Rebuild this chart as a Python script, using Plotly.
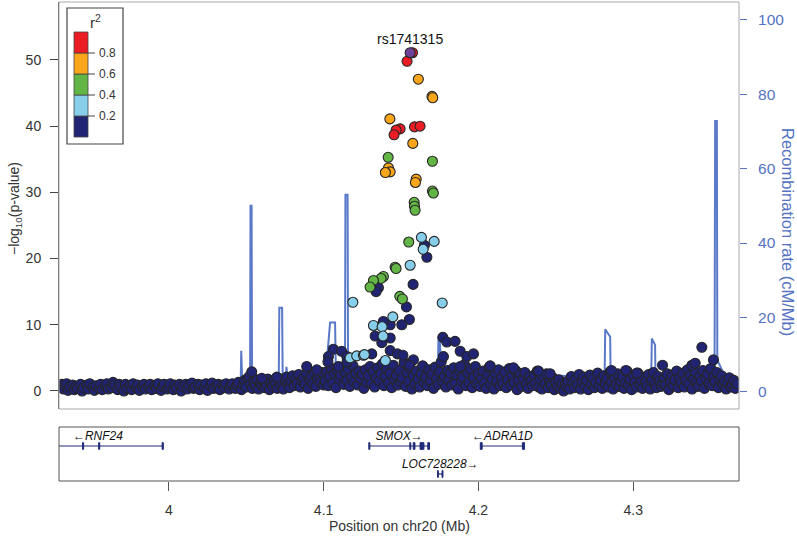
import plotly.graph_objects as go

FONT = "Liberation Sans, Arial, Helvetica, sans-serif"

# ---------------- data ----------------
# background SNPs (r2 < 0.2), position in Mb and -log10(p)
bg_pos = [
    3.931, 3.932, 3.933, 3.934, 3.935, 3.936, 3.938, 3.939, 3.940, 3.941,
    3.943, 3.944, 3.945, 3.947, 3.948, 3.949, 3.951, 3.952, 3.953, 3.955,
    3.956, 3.957, 3.959, 3.960, 3.961, 3.963, 3.964, 3.965, 3.967, 3.968,
    3.969, 3.971, 3.972, 3.973, 3.975, 3.976, 3.977, 3.979, 3.980, 3.981,
    3.983, 3.984, 3.985, 3.987, 3.988, 3.989, 3.991, 3.992, 3.993, 3.995,
    3.996, 3.997, 3.999, 4.000, 4.001, 4.003, 4.004, 4.005, 4.007, 4.008,
    4.009, 4.011, 4.012, 4.013, 4.015, 4.016, 4.017, 4.019, 4.020, 4.021,
    4.023, 4.024, 4.025, 4.027, 4.028, 4.029, 4.031, 4.032, 4.033, 4.035,
    4.036, 4.037, 4.039, 4.040, 4.041, 4.043, 4.044, 4.045, 4.047, 4.048,
    4.049, 4.050, 4.051, 4.052, 4.053, 4.054, 4.055, 4.056, 4.057, 4.058,
    4.059, 4.060,
    4.061, 4.062, 4.063, 4.064, 4.065, 4.066, 4.067, 4.068, 4.069, 4.070,
    4.071, 4.072, 4.073, 4.074, 4.075, 4.076, 4.077, 4.078, 4.079, 4.080,
    4.081, 4.082, 4.083, 4.084, 4.085, 4.086, 4.087, 4.088, 4.089, 4.090,
    4.091, 4.092, 4.093, 4.094, 4.095, 4.096, 4.097, 4.098, 4.099, 4.100,
    4.101, 4.102, 4.103, 4.104, 4.105, 4.106, 4.107, 4.108, 4.109, 4.110,
    4.111, 4.112, 4.113, 4.114, 4.115, 4.116, 4.117, 4.118, 4.119, 4.120,
    4.121, 4.122, 4.123, 4.124, 4.125, 4.126, 4.127, 4.128, 4.129, 4.130,
    4.131, 4.132, 4.133, 4.134, 4.135, 4.136, 4.137, 4.138, 4.139, 4.140,
    4.141, 4.142, 4.143, 4.144, 4.145, 4.146, 4.147, 4.148, 4.149, 4.150,
    4.151, 4.152, 4.153, 4.154, 4.155, 4.156, 4.157, 4.158, 4.159, 4.160,
    4.161, 4.162, 4.163, 4.164, 4.165, 4.166, 4.167, 4.168, 4.169, 4.170,
    4.171, 4.172, 4.173, 4.174, 4.175, 4.176, 4.177, 4.178, 4.179, 4.180,
    4.181, 4.182, 4.183, 4.184, 4.185, 4.186, 4.187, 4.188, 4.189, 4.190,
    4.191, 4.192, 4.193, 4.194, 4.195, 4.196, 4.197, 4.198, 4.199, 4.200,
    4.201, 4.202, 4.203, 4.204, 4.205, 4.206, 4.207, 4.208, 4.209, 4.210,
    4.211, 4.212, 4.213, 4.214, 4.215, 4.216, 4.217, 4.218, 4.219, 4.220,
    4.221, 4.222, 4.223, 4.224, 4.225, 4.226, 4.227, 4.228, 4.229, 4.230,
    4.231, 4.232, 4.233, 4.234, 4.235, 4.236, 4.237, 4.238, 4.239, 4.240,
    4.241, 4.242, 4.243, 4.244, 4.245, 4.246, 4.247, 4.248, 4.249, 4.250,
    4.251, 4.252, 4.253, 4.254, 4.255, 4.256, 4.257, 4.258, 4.259, 4.260,
    4.261, 4.262, 4.263, 4.264, 4.265, 4.266, 4.267, 4.268, 4.269, 4.270,
    4.271, 4.272, 4.273, 4.274, 4.275, 4.276, 4.277, 4.278, 4.279, 4.280,
    4.281, 4.282, 4.283, 4.284, 4.285, 4.286, 4.287, 4.288, 4.289, 4.290,
    4.291, 4.292, 4.293, 4.294, 4.295, 4.296, 4.297, 4.298, 4.299, 4.300,
    4.301, 4.302, 4.303, 4.304, 4.305, 4.306, 4.307, 4.308, 4.309, 4.310,
    4.311, 4.312, 4.313, 4.314, 4.315, 4.316, 4.317, 4.318, 4.319, 4.320,
    4.321, 4.322, 4.323, 4.324, 4.325, 4.326, 4.327, 4.328, 4.329, 4.330,
    4.331, 4.332, 4.333, 4.334, 4.335, 4.336, 4.337, 4.338, 4.339, 4.340,
    4.341, 4.342, 4.343, 4.344, 4.345, 4.346, 4.347, 4.348, 4.349, 4.350,
    4.351, 4.352, 4.353, 4.354, 4.355, 4.356, 4.357, 4.358, 4.359, 4.360,
    4.361, 4.362, 4.363, 4.364, 4.365, 4.366, 4.367,
]
bg_logp = [
    1.0, 0.3, 0.8, 1.1, 0.1, 0.6, 0.9, 0.2, 0.7, 0.4,
    1.0, 0.0, 0.5, 0.9, 0.3, 1.1, 0.6, 0.1, 0.8, 0.4,
    1.0, 0.2, 0.7, 1.1, 0.3, 0.5, 1.3, 0.9, 0.2, 1.0,
    0.6, 0.0, 1.0, 0.4, 0.8, 0.2, 1.1, 0.5, 0.9, 0.1,
    0.7, 1.0, 0.3, 0.6, 1.0, 0.2, 0.8, 0.4, 1.1, 0.1,
    0.7, 1.0, 0.3, 0.6, 1.1, 0.2, 0.9, 0.5, 1.0, 0.0,
    0.7, 1.0, 0.3, 0.8, 1.2, 0.4, 0.6, 1.0, 0.2, 0.9,
    0.5, 1.1, 0.1, 0.8, 1.2, 0.4, 0.7, 1.0, 0.2, 0.9,
    0.5, 1.1, 0.3, 0.8, 1.1, 0.4, 0.9, 1.3, 0.2, 1.0,
    1.6, 0.6, 1.9, 2.2, 1.1, 0.4, 1.4, 0.8, 1.7, 0.3,
    1.2, 0.9,
    1.5, 0.5, 1.0, 1.8, 0.2, 1.3, 0.7, 1.6, 1.1, 0.4,
    1.9, 0.9, 1.4, 0.3, 1.7, 2.1, 1.0, 0.5, 1.5, 2.3,
    0.8, 1.8, 1.2, 2.5, 0.6, 1.6, 2.0, 1.0, 2.6, 0.4,
    1.7, 2.2, 1.1, 2.7, 0.7, 1.9, 2.4, 1.3, 2.8, 0.9,
    1.5, 2.9, 0.8, 2.2, 3.4, 1.2, 2.6, 0.5, 3.1, 1.8,
    2.4, 3.6, 1.0, 2.8, 1.6, 3.3, 0.7, 2.1, 3.8, 1.4,
    2.7, 0.9, 3.0, 1.9, 2.5, 0.4, 3.2, 1.3, 2.3, 3.7,
    1.1, 2.9, 0.6, 2.0, 3.5, 1.5, 2.6, 4.1, 0.8, 2.2,
    3.3, 1.2, 2.7, 0.5, 3.9, 1.7, 2.4, 0.9, 3.1, 1.4,
    2.0, 4.3, 0.7, 2.8, 1.5, 3.4, 0.3, 2.3, 1.1, 3.0,
    1.8, 0.6, 2.6, 3.8, 1.3, 2.1, 0.8, 3.2, 1.6, 2.5,
    0.4, 3.6, 1.9, 1.0, 2.9, 4.4, 1.4, 2.2, 0.6, 3.1,
    1.7, 2.7, 0.9, 3.5, 1.2, 2.4, 0.3, 3.0, 1.5, 2.1,
    4.0, 0.8, 2.8, 1.3, 3.3, 0.5, 2.0, 3.7, 1.1, 2.6,
    0.7, 1.9, 3.0, 1.2, 0.4, 2.5, 3.6, 1.0, 1.8, 0.3,
    2.7, 1.4, 3.2, 0.8, 2.0, 1.1, 2.9, 0.5, 1.7, 3.4,
    0.9, 2.3, 1.3, 3.1, 0.2, 1.6, 2.6, 0.7, 1.9, 2.8,
    1.0, 0.4, 2.2, 1.5, 0.8, 2.4, 1.2, 3.0, 0.6, 1.8,
    0.3, 2.1, 1.1, 2.6, 0.5, 1.4, 0.9, 2.0, 0.2, 1.3,
    0.7, 1.7, 0.4, 1.1, 0.0, 1.0, 0.6, 1.5, 0.3, 2.2,
    1.2, 0.5, 1.8, 0.9, 2.5, 0.3, 1.4, 2.1, 0.7, 1.6,
    0.2, 2.4, 1.0, 1.9, 0.5, 1.3, 2.7, 0.8, 1.7, 0.4,
    2.3, 1.1, 1.9, 0.6, 2.9, 1.4, 0.3, 2.0, 1.0, 2.6,
    0.7, 1.5, 2.2, 0.4, 1.2, 3.0, 0.9, 1.8, 0.2, 2.4,
    1.3, 0.6, 2.7, 1.0, 1.7, 0.4, 2.1, 1.4, 0.8, 2.5,
    0.3, 1.6, 2.8, 1.1, 0.5, 2.2, 1.5, 0.7, 1.2, 1.9,
    0.9, 2.6, 0.2, 1.4, 2.3, 0.8, 1.7, 3.0, 0.5, 2.0,
    1.2, 2.7, 0.6, 1.6, 3.2, 1.0, 2.4, 0.3, 1.8, 2.9,
    1.3, 0.7, 2.2, 1.5, 3.1, 0.4, 1.9, 2.6, 1.1, 3.4,
    0.8, 2.1, 1.4, 2.8, 0.5, 1.7, 2.3, 0.9, 1.5, 0.3,
    1.2, 2.0, 0.6, 1.0, 1.6, 0.4, 1.1,
]

# SNPs in and around the association peak
peak_pos = [
    4.1574, 4.1539, 4.1494, 4.1468, 4.1455, 4.1587, 4.1623,
    4.1612, 4.1700, 4.1705, 4.1428, 4.1576, 4.1419, 4.1430, 4.1399, 4.1598, 4.1593,
    4.1417, 4.1703, 4.1703, 4.1709, 4.1585, 4.1587, 4.1591, 4.1550, 4.1462, 4.1468,
    4.1386, 4.1371, 4.1322, 4.1300, 4.1492, 4.1509,
    4.1632, 4.1714, 4.1643, 4.1559, 4.1189, 4.1766, 4.1447, 4.1322, 4.1378, 4.1384,
    4.1399, 4.1171, 4.1214, 4.1257, 4.1264,
    4.1651, 4.1667, 4.1354, 4.1339, 4.1578, 4.1535, 4.1554, 4.1505, 4.1430, 4.1386,
    4.1333, 4.1430, 4.1376, 4.1770, 4.1796, 4.1849, 4.1430, 4.1477, 4.1512, 4.1580,
    4.1554, 4.1063, 4.1116, 4.1311, 4.1774, 4.1882, 4.1925, 4.1968, 4.1883, 4.1031,
    4.1150, 4.1028, 4.1096, 4.1152, 4.0536, 4.0601, 4.0698, 4.0891, 4.0956, 4.2076,
    4.2226, 4.2388, 4.2463, 4.2859, 4.2952, 4.3023, 4.3189, 4.3379, 4.3400, 4.3443,
    4.3518,
]
peak_logp = [
    51.1, 49.8, 39.6, 39.4, 38.7, 39.9, 40.0,
    47.1, 44.5, 44.3, 41.1, 37.4, 33.7, 33.1, 33.0, 32.0, 31.5,
    35.3, 34.7, 30.2, 29.9, 28.5, 27.9, 27.3, 22.5, 18.7, 18.5,
    17.3, 17.0, 16.7, 15.7, 14.3, 13.9,
    23.2, 22.6, 21.4, 19.0, 13.4, 13.3, 11.2, 9.9, 9.7, 8.3,
    4.6, 5.0, 5.3, 5.4, 5.5,
    22.0, 20.2, 15.6, 15.0, 16.1, 12.7, 10.8, 10.0, 10.0, 10.5,
    8.3, 8.0, 7.3, 8.1, 7.4, 7.5, 6.1, 5.6, 5.4, 4.7,
    3.9, 6.3, 6.0, 5.6, 5.2, 6.0, 5.2, 5.6, 3.7, 5.2,
    5.2, 4.4, 3.7, 4.4, 2.9, 1.9, 2.1, 3.7, 3.2, 3.8,
    3.5, 3.0, 2.6, 3.1, 3.1, 2.7, 3.9, 3.9, 4.2, 6.6,
    4.7,
]
peak_r2 = (
    [0.85] * 7
    + [0.70] * 10
    + [0.50] * 16
    + [0.30] * 15
    + [0.10] * 51
)

lead_name = "rs1741315"
lead_pos = 4.1559
lead_logp = 51.1

# recombination rate (cM/Mb)
recomb_pos = [
    3.9290, 4.0100, 4.0464, 4.0468, 4.0476, 4.0525, 4.0528, 4.0535, 4.0538,
    4.0710, 4.0714, 4.0732, 4.0736, 4.0755, 4.0760, 4.0770, 4.1010, 4.1042,
    4.1074, 4.1080, 4.1138, 4.1141, 4.1155, 4.1158, 4.1500, 4.1505, 4.1738,
    4.1742, 4.1752, 4.1756, 4.2815, 4.2819, 4.2851, 4.2854, 4.3116, 4.3120,
    4.3141, 4.3144, 4.3525, 4.3529, 4.3540, 4.3543, 4.3594, 4.3600, 4.3683,
]
recomb_rate = [
    0.8, 0.8, 1.0, 11.0, 1.0, 1.0, 50.0, 50.0, 1.5,
    1.5, 22.6, 22.6, 2.5, 2.5, 6.7, 3.0, 3.0, 18.6,
    18.6, 3.5, 3.5, 53.0, 53.0, 4.0, 4.5, 5.8, 5.8,
    14.5, 14.5, 5.0, 4.0, 16.8, 14.8, 3.5, 3.5, 14.3,
    12.6, 3.0, 3.0, 72.8, 72.8, 8.5, 4.0, 1.0, 1.0,
]

# genes
gene_names = ["RNF24", "SMOX", "ADRA1D", "LOC728228"]
gene_start = [3.9120, 4.1292, 4.2012, 4.1736]
gene_end = [3.9965, 4.1684, 4.2298, 4.1771]
gene_strand = ["-", "+", "-", "+"]
gene_row = [1, 1, 1, 0]
exon_gene = [0, 0, 0, 1, 1, 1, 1, 1, 2, 2, 3, 3]
exon_start = [3.9443, 3.9547, 3.9957, 4.1292, 4.1557, 4.1579, 4.1623, 4.1673,
              4.2012, 4.2284, 4.1736, 4.1765]
exon_end = [3.9450, 3.9554, 3.9965, 4.1299, 4.1563, 4.1590, 4.1648, 4.1684,
            4.2024, 4.2298, 4.1741, 4.1771]

r2_breaks = [0.2, 0.4, 0.6, 0.8]
r2_labels = ["0.2", "0.4", "0.6", "0.8"]
r2_colors = ["#202472", "#87ceeb", "#63b545", "#faa61a", "#ec1c24"]
lead_color = "#6f4199"

x_range = [3.9291, 4.3683]
p_ticks = [0, 10, 20, 30, 40, 50]
rate_ticks = [0, 20, 40, 60, 80, 100]
pos_ticks = [4.0, 4.1, 4.2, 4.3]
pos_ticktext = ["4", "4.1", "4.2", "4.3"]

# ---------------- styles ----------------
BLUE = "#5573c2"
RECOMB = "#5b79c9"
OUTLINE = "#262626"
GENE = "#1f2a7a"
MSIZE = 10


def r2_class(r):
    k = 0
    for b in r2_breaks:
        if r >= b:
            k += 1
    return k


fig = go.Figure()

# recombination line (primary y, right side) -> drawn beneath the points
fig.add_trace(go.Scatter(
    x=recomb_pos, y=recomb_rate, mode="lines",
    line=dict(color=RECOMB, width=2), xaxis="x", yaxis="y", hoverinfo="skip"))

# background SNPs
fig.add_trace(go.Scatter(
    x=bg_pos, y=bg_logp, mode="markers", xaxis="x", yaxis="y2",
    marker=dict(size=MSIZE, color=r2_colors[0], line=dict(color=OUTLINE, width=1.1))))

# peak SNPs by r2 class (low first, high on top)
for k in range(len(r2_colors)):
    xs = [p for p, r in zip(peak_pos, peak_r2) if r2_class(r) == k]
    ys = [v for v, r in zip(peak_logp, peak_r2) if r2_class(r) == k]
    fig.add_trace(go.Scatter(
        x=xs, y=ys, mode="markers", xaxis="x", yaxis="y2",
        marker=dict(size=MSIZE, color=r2_colors[k], line=dict(color=OUTLINE, width=1.1))))

# lead SNP
fig.add_trace(go.Scatter(
    x=[lead_pos], y=[lead_logp], mode="markers", xaxis="x", yaxis="y2",
    marker=dict(size=MSIZE, color=lead_color, line=dict(color=OUTLINE, width=1.1))))

# gene lines
gx, gy = [], []
for s, e, r in zip(gene_start, gene_end, gene_row):
    gx += [s, e, None]
    gy += [r, r, None]
fig.add_trace(go.Scatter(x=gx, y=gy, mode="lines", xaxis="x2", yaxis="y3",
                         line=dict(color=GENE, width=1.2), hoverinfo="skip"))

# exons as small rectangles
ex, ey = [], []
h = 0.12
for g, s, e in zip(exon_gene, exon_start, exon_end):
    r = gene_row[g]
    ex += [s, e, e, s, s, None]
    ey += [r - h, r - h, r + h, r + h, r - h, None]
fig.add_trace(go.Scatter(x=ex, y=ey, mode="lines", fill="toself", fillcolor=GENE,
                         xaxis="x2", yaxis="y3", line=dict(color=GENE, width=1),
                         hoverinfo="skip"))

# gene labels
lab = []
for n, st in zip(gene_names, gene_strand):
    lab.append("<i>\u2190" + n + "</i>" if st == "-" else "<i>" + n + "\u2192</i>")
fig.add_trace(go.Scatter(
    x=[(s + e) / 2 for s, e in zip(gene_start, gene_end)],
    y=[r + 0.33 for r in gene_row], mode="text", text=lab,
    textposition="middle center", xaxis="x2", yaxis="y3",
    textfont=dict(family=FONT, size=12, color="#111"), hoverinfo="skip"))

# ---------------- layout ----------------
W, H = 797, 537
L, R, T, B = 59, 58, 2, 56
PW, PH = W - L - R, H - T - B


def px(xp):
    return (xp - L) / PW


def py(yp):
    return (H - B - yp) / PH


main_bottom = py(409)
gene_top = py(427)

fig.update_layout(
    width=W, height=H, margin=dict(l=L, r=R, t=T, b=B, autoexpand=False),
    paper_bgcolor="white", plot_bgcolor="white", showlegend=False,
    hovermode=False, font=dict(family=FONT, size=14, color="#333"),
    xaxis=dict(domain=[0, 1], anchor="y", range=x_range, showticklabels=False,
               ticks="", showgrid=False, zeroline=False, showline=False),
    yaxis=dict(domain=[main_bottom, 1], anchor="x", side="right",
               range=[-4.65, 104.84], tickvals=rate_ticks, ticks="outside",
               ticklen=7, tickcolor=BLUE, tickfont=dict(color=BLUE, size=15.5),
               showgrid=False, zeroline=False, showline=False,
               ticklabelstandoff=8),
    yaxis2=dict(overlaying="y", side="left", anchor="x", range=[-2.72, 58.76],
                tickvals=p_ticks, ticks="outside", ticklen=8, tickcolor="#444",
                tickfont=dict(color="#333", size=14), showline=True,
                linecolor="#555", linewidth=1, showgrid=False, zeroline=False,
                ticklabelstandoff=6),
    xaxis2=dict(domain=[0, 1], anchor="y3", matches="x", range=x_range,
                tickvals=pos_ticks, ticktext=pos_ticktext, ticks="outside",
                ticklen=9, tickcolor="#555", tickfont=dict(color="#333", size=14),
                showgrid=False, zeroline=False, showline=False,
                ticklabelstandoff=7),
    yaxis3=dict(domain=[0, gene_top], anchor="x2", range=[-0.25, 1.679],
                visible=False),
)

shapes = [
    dict(type="rect", xref="x domain", yref="y domain", x0=0, x1=1, y0=0, y1=1,
         line=dict(color="#aaaaaa", width=1), layer="above"),
    dict(type="rect", xref="x2 domain", yref="y3 domain", x0=0, x1=1, y0=0, y1=1,
         line=dict(color="#555555", width=1), layer="above"),
    # legend box
    dict(type="rect", xref="paper", yref="paper", x0=px(67), x1=px(123),
         y0=py(144), y1=py(8), line=dict(color="#444", width=1.2),
         fillcolor="white", layer="above"),
]
annotations = []
block_edges = [137, 116, 95, 74, 53, 32]
for i, col in enumerate(r2_colors):
    shapes.append(dict(type="rect", xref="paper", yref="paper",
                       x0=px(74), x1=px(88), y0=py(block_edges[i]),
                       y1=py(block_edges[i + 1]), fillcolor=col,
                       line=dict(color="#444", width=0.8), layer="above"))
for i, t in enumerate(r2_labels):
    yb = block_edges[i + 1]
    shapes.append(dict(type="line", xref="paper", yref="paper", x0=px(88),
                       x1=px(95), y0=py(yb), y1=py(yb),
                       line=dict(color="#444", width=1), layer="above"))
    annotations.append(dict(text=t, xref="paper", yref="paper", x=px(97),
                            y=py(yb), xanchor="left", yanchor="middle",
                            showarrow=False, font=dict(size=12, color="#333")))
annotations.append(dict(text="r<sup>2</sup>", xref="paper", yref="paper",
                        x=px(95), y=py(21), xanchor="center", yanchor="middle",
                        showarrow=False, font=dict(size=15, color="#333")))
annotations.append(dict(text=lead_name, xref="x", yref="y2", x=lead_pos,
                        y=lead_logp, yshift=14, xanchor="center",
                        yanchor="middle", showarrow=False,
                        font=dict(size=14, color="#111")))
annotations.append(dict(text="\u2212log<sub>10</sub>(p-value)", xref="paper",
                        yref="paper", x=px(15), y=py(208), textangle=-90,
                        xanchor="center", yanchor="middle", showarrow=False,
                        font=dict(size=14, color="#333")))
annotations.append(dict(text="Recombination rate (cM/Mb)", xref="paper",
                        yref="paper", x=px(788), y=py(232), textangle=90,
                        xanchor="center", yanchor="middle", showarrow=False,
                        font=dict(size=16.5, color=BLUE)))
annotations.append(dict(text="Position on chr20 (Mb)", xref="paper",
                        yref="paper", x=0.5, y=py(526), xanchor="center",
                        yanchor="middle", showarrow=False,
                        font=dict(size=14, color="#333")))

fig.update_layout(shapes=shapes, annotations=annotations)
fig.write_html("out.html", config={"displayModeBar": False},
               post_script="document.body.style.margin='0px';"
                           "document.body.style.padding='0px';")
